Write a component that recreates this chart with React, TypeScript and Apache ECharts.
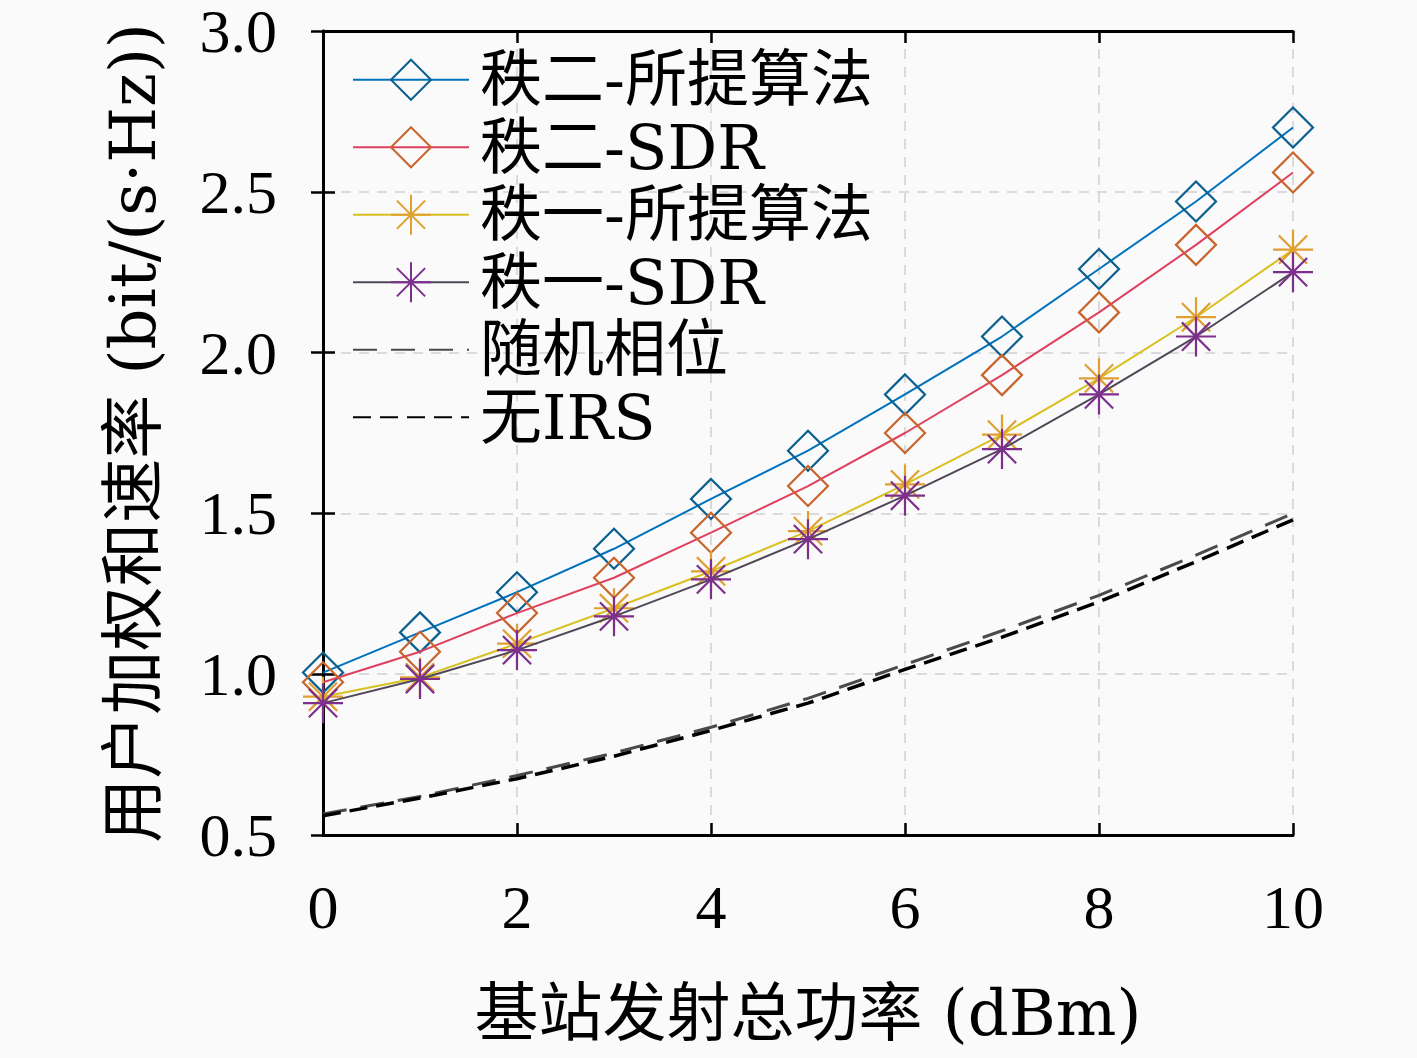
import React, { useEffect, useRef } from "react";
import * as echarts from "echarts";

const powerDbm = [0, 1, 2, 3, 4, 5, 6, 7, 8, 9, 10];
const rank2Proposed = [1.005, 1.13, 1.255, 1.39, 1.545, 1.695, 1.87, 2.05, 2.26, 2.47, 2.70];
const rank2Sdr = [0.975, 1.07, 1.19, 1.30, 1.44, 1.585, 1.75, 1.93, 2.125, 2.335, 2.56];
const rank1Proposed = [0.93, 0.99, 1.095, 1.205, 1.32, 1.445, 1.59, 1.745, 1.92, 2.11, 2.32];
const rank1Sdr = [0.91, 0.985, 1.075, 1.18, 1.295, 1.42, 1.555, 1.70, 1.87, 2.05, 2.25];
const randomPhase = [0.565, 0.62, 0.685, 0.755, 0.835, 0.925, 1.03, 1.135, 1.245, 1.37, 1.50];
const noIrs = [0.56, 0.615, 0.675, 0.745, 0.825, 0.91, 1.015, 1.115, 1.225, 1.35, 1.48];

const names = ["秩二-所提算法", "秩二-SDR", "秩一-所提算法", "秩一-SDR", "随机相位", "无IRS"];
const xTicks = [0, 2, 4, 6, 8, 10];
const yTicks = [0.5, 1.0, 1.5, 2.0, 2.5, 3.0];

const FONT = "'Liberation Serif', 'Noto Sans CJK SC', serif";
const WIDE_FONT = "'DejaVu Serif', 'Noto Sans CJK SC', serif";
const STAR = "path://M0,-10 L0,10 M-10,0 L10,0 M-7.07,-7.07 L7.07,7.07 M-7.07,7.07 L7.07,-7.07";

const pairs = (ys: number[]) => powerDbm.map((x, i) => [x, ys[i]]);

export default function App() {
  const ref = useRef<HTMLDivElement>(null);
  useEffect(() => {
    document.body.style.margin = "0";
    const chart = echarts.init(ref.current!, null, { renderer: "svg" });
    const axisLine = { show: true, lineStyle: { color: "#000", width: 3 } };
    const tick = { show: true, inside: true, length: 12, lineStyle: { color: "#000", width: 2.5 } };
    const split = { show: true, lineStyle: { color: "#cfcfcf", width: 1.5, type: [10, 8] as any } };
    const xCommon = { type: "value", min: 0, max: 10, interval: 2 };
    const yCommon = { type: "value", min: 0.5, max: 3, interval: 0.5 };
    const markerSeries = (i: number, data: number[], lineColor: string, markColor: string, symbol: string, size: number) => ({
      name: names[i],
      type: "line",
      data: pairs(data),
      symbol,
      symbolSize: size,
      showAllSymbol: true,
      lineStyle: { color: lineColor, width: 2 },
      itemStyle: { color: "rgba(0,0,0,0)", borderColor: markColor, borderWidth: 2.2 },
      z: 3 + i,
    });
    chart.setOption({
      animation: false,
      backgroundColor: "#fafafa",
      textStyle: { fontFamily: FONT },
      grid: { left: 323, right: 124, top: 28, bottom: 223, containLabel: false },
      xAxis: [
        {
          ...xCommon,
          position: "bottom",
          axisLine,
          axisTick: tick,
          splitLine: split,
          axisLabel: { fontSize: 62, lineHeight: 44, color: "#000", margin: 50, fontFamily: FONT, customValues: xTicks },
          name: "基站发射总功率 (dBm)",
          nameLocation: "middle",
          nameGap: 146,
          nameTextStyle: { fontSize: 64, color: "#000", fontFamily: WIDE_FONT },
        },
        {
          ...xCommon,
          position: "top",
          axisLine,
          axisTick: tick,
          splitLine: { show: false },
          axisLabel: { show: false },
        },
      ],
      yAxis: [
        {
          ...yCommon,
          position: "left",
          axisLine,
          axisTick: tick,
          splitLine: split,
          axisLabel: {
            fontSize: 62,
            lineHeight: 36,
            color: "#000",
            margin: 46,
            fontFamily: FONT,
            formatter: (v: number) => (yTicks.includes(v) ? v.toFixed(1) : ""),
          },
          name: "用户加权和速率 (bit/(s·Hz))",
          nameLocation: "middle",
          nameGap: 158,
          nameTextStyle: { fontSize: 64, color: "#000", fontFamily: WIDE_FONT },
        },
        {
          ...yCommon,
          position: "right",
          axisLine,
          axisTick: tick,
          splitLine: { show: false },
          axisLabel: { show: false },
        },
      ],
      legend: {
        left: 352,
        top: 46,
        padding: 0,
        orient: "vertical",
        itemWidth: 116,
        itemHeight: 50,
        itemGap: 0,
        textStyle: { fontSize: 62, color: "#000", fontFamily: WIDE_FONT, lineHeight: 67.5, padding: [0, 0, 0, 6] },
        data: names,
        backgroundColor: "rgba(0,0,0,0)",
      },
      series: [
        markerSeries(0, rank2Proposed, "#0072BD", "#0a5f8f", "diamond", 40),
        markerSeries(1, rank2Sdr, "#E0405F", "#C8642C", "diamond", 40),
        markerSeries(2, rank1Proposed, "#D8C020", "#E0A030", STAR, 40),
        markerSeries(3, rank1Sdr, "#504858", "#7E2F8E", STAR, 40),
        {
          name: names[4],
          type: "line",
          data: pairs(randomPhase),
          symbol: "circle",
          symbolSize: 0,
          showSymbol: false,
          lineStyle: { color: "#4a4a4a", width: 3, type: [24, 14] },
          itemStyle: { color: "rgba(0,0,0,0)", borderWidth: 0 },
          z: 2,
        },
        {
          name: names[5],
          type: "line",
          data: pairs(noIrs),
          symbol: "circle",
          symbolSize: 0,
          showSymbol: false,
          lineStyle: { color: "#000", width: 3.5, type: [18, 9] },
          itemStyle: { color: "rgba(0,0,0,0)", borderWidth: 0 },
          z: 2,
        },
      ],
    });
    return () => chart.dispose();
  }, []);
  return <div ref={ref} style={{ width: 1417, height: 1058 }} />;
}
